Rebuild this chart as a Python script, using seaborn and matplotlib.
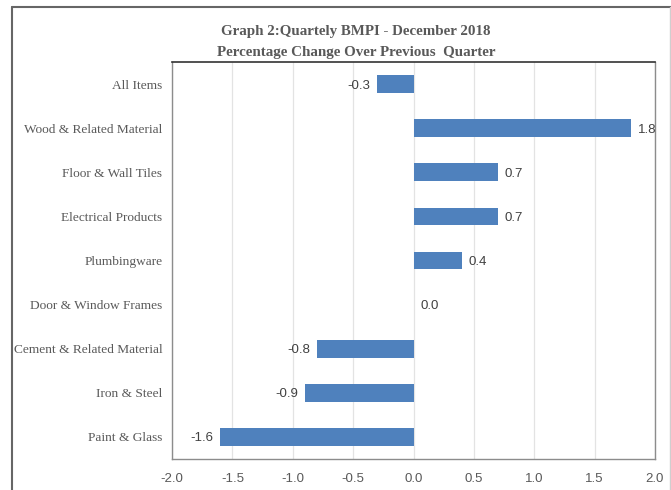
import matplotlib
matplotlib.use("Agg")
import matplotlib.pyplot as plt
import seaborn as sns
import pandas as pd
from matplotlib.lines import Line2D

# data
categories = [
    "All Items",
    "Wood & Related Material",
    "Floor & Wall Tiles",
    "Electrical Products",
    "Plumbingware",
    "Door & Window Frames",
    "Cement & Related Material",
    "Iron & Steel",
    "Paint & Glass",
]
changes = [-0.3, 1.8, 0.7, 0.7, 0.4, 0.0, -0.8, -0.9, -1.6]
x_ticks = [-2.0, -1.5, -1.0, -0.5, 0.0, 0.5, 1.0, 1.5, 2.0]

TITLE = "Graph 2:Quartely BMPI - December 2018\nPercentage Change Over Previous  Quarter"
BAR_COLOR = "#4F81BD"
TEXT_GRAY = "#595959"

df = pd.DataFrame({"Category": categories, "Change": changes})

sns.set_style("white")
serif = ["Liberation Serif", "DejaVu Serif"]
narrow = ["Liberation Sans Narrow", "Liberation Sans", "DejaVu Sans"]

fig = plt.figure(figsize=(6.71, 4.90), dpi=100)
ax = fig.add_axes([172 / 671, 1 - 459 / 490, (655 - 172) / 671, (459 - 62) / 490])

sns.barplot(data=df, x="Change", y="Category", orient="h", color=BAR_COLOR,
            saturation=1, width=0.4, linewidth=0, ax=ax, zorder=3)

ax.set_xlim(-2.0, 2.0)
ax.set_ylim(len(categories) - 0.5, -0.5)
ax.set_xticks(x_ticks)
ax.set_xticklabels([f"{t:.1f}" for t in x_ticks], family=narrow, fontsize=9.5,
                   color=TEXT_GRAY)
ax.set_yticklabels(categories, family=serif, fontsize=9.6, color=TEXT_GRAY)
ax.tick_params(axis="both", length=0)
ax.tick_params(axis="x", pad=10)
ax.tick_params(axis="y", pad=7)
ax.set_xlabel("")
ax.set_ylabel("")
ax.xaxis.grid(True, color="#E3E3E3", linewidth=0.9, zorder=0)
ax.set_axisbelow(True)

for side in ["left", "bottom", "right"]:
    ax.spines[side].set_color("#8C8C8C")
    ax.spines[side].set_linewidth(1.0)
ax.spines["top"].set_color("#333333")
ax.spines["top"].set_linewidth(1.2)

# value labels
for i, v in enumerate(changes):
    if v < 0:
        ax.annotate(f"{v:.1f}", (v, i), xytext=(-5, 0), textcoords="offset points",
                    ha="right", va="center_baseline", family=narrow, fontsize=9.5,
                    color="#404040")
    else:
        ax.annotate(f"{v:.1f}", (v, i), xytext=(5, 0), textcoords="offset points",
                    ha="left", va="center_baseline", family=narrow, fontsize=9.5,
                    color="#404040")

fig.text(356 / 671, 1 - 42 / 490, TITLE, ha="center", va="center", family=serif,
         fontsize=10.8, fontweight="bold", color=TEXT_GRAY, linespacing=1.75)

# outer frame around the chart area
fx = 11.5 / 671
fy = 1 - 7 / 490
fig.add_artist(Line2D([fx, 1], [fy, fy], transform=fig.transFigure,
                      color="#666666", linewidth=1.5))
fig.add_artist(Line2D([fx, fx], [0, fy], transform=fig.transFigure,
                      color="#666666", linewidth=1.5))
fig.add_artist(Line2D([669.5 / 671, 669.5 / 671], [0, fy], transform=fig.transFigure,
                      color="#CFCFCF", linewidth=1.0))

fig.savefig("out.png", dpi=100)
